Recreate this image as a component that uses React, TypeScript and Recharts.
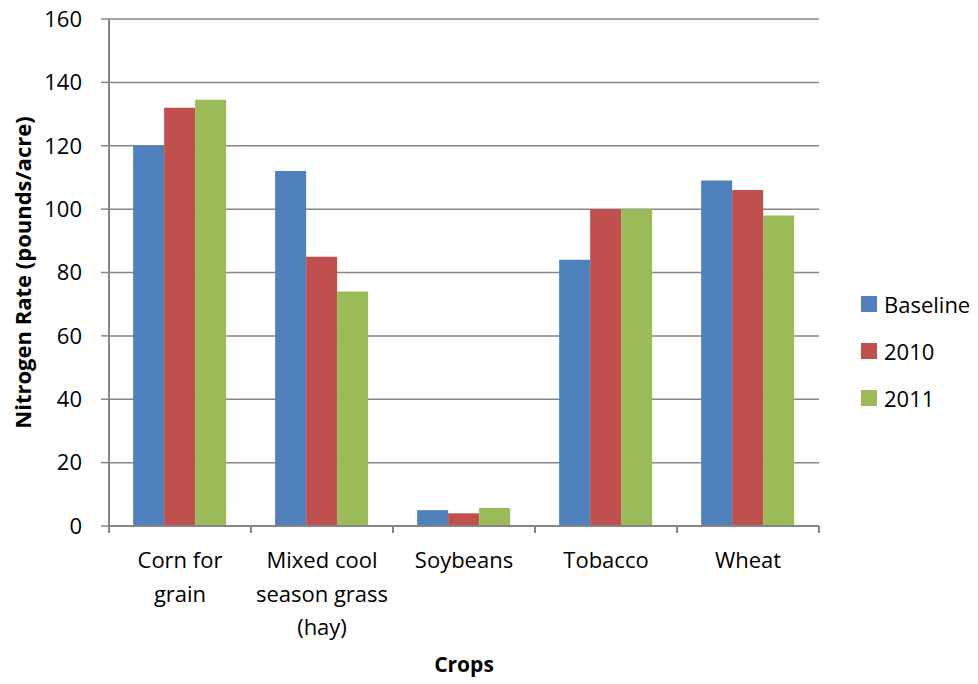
import React from "react";
import {
  BarChart,
  Bar,
  XAxis,
  YAxis,
  CartesianGrid,
  Legend,
} from "recharts";

// Crop categories ("\n" marks where the tick label wraps).
const categories = [
  "Corn for\ngrain",
  "Mixed cool\nseason grass\n(hay)",
  "Soybeans",
  "Tobacco",
  "Wheat",
];

// Nitrogen rate, pounds/acre
const baseline = [120, 112, 5, 84, 109];
const rate2010 = [132, 85, 4, 100, 106];
const rate2011 = [134.5, 74, 5.7, 100, 98];

const seriesNames = ["Baseline", "2010", "2011"];
const seriesColors = ["#4F81BD", "#C0504D", "#9BBB59"];

const yTicks = [0, 20, 40, 60, 80, 100, 120, 140, 160];

const data = categories.map((name, i) => ({
  name,
  Baseline: baseline[i],
  "2010": rate2010[i],
  "2011": rate2011[i],
}));

const FONT = "'Open Sans', sans-serif";
const AXIS = "#868686";

function CropTick(props: any) {
  const { x, y, payload, index, visibleTicksCount } = props;
  const half = payload.offset ?? 71;
  const axisY = y - 6;
  const lines = String(payload.value).split("\n");
  return (
    <g>
      <line x1={x - half} y1={axisY} x2={x - half} y2={axisY + 7} stroke={AXIS} strokeWidth={2} />
      {index === visibleTicksCount - 1 && (
        <line x1={x + half} y1={axisY} x2={x + half} y2={axisY + 7} stroke={AXIS} strokeWidth={2} />
      )}
      <text x={x} y={y} textAnchor="middle" fontFamily={FONT} fontSize={22} fill="#000">
        {lines.map((l, i) => (
          <tspan key={i} x={x} dy={i === 0 ? 36 : 33.5}>
            {l}
          </tspan>
        ))}
      </text>
    </g>
  );
}

function LegendBox() {
  return (
    <div style={{ fontFamily: FONT, fontSize: 22, color: "#000" }}>
      {seriesNames.map((n, i) => (
        <div key={n} style={{ display: "flex", alignItems: "center", height: 47 }}>
          <span
            style={{
              display: "inline-block",
              width: 16,
              height: 16,
              background: seriesColors[i],
              marginRight: 7,
            }}
          />
          <span>{n}</span>
        </div>
      ))}
    </div>
  );
}

export default function App() {
  return (
    <div style={{ position: "absolute", left: 0, top: 0, width: 978, height: 684, background: "#fff" }}>
      <BarChart
        width={978}
        height={684}
        data={data}
        margin={{ top: 19, right: 159, left: 49, bottom: 0 }}
        barCategoryGap="17%"
        barGap={0}
      >
        <CartesianGrid vertical={false} stroke={AXIS} strokeWidth={1.5} />
        <XAxis
          dataKey="name"
          height={158}
          interval={0}
          tickLine={false}
          tickSize={6}
          tickMargin={0}
          axisLine={{ stroke: AXIS, strokeWidth: 2 }}
          tick={<CropTick />}
          label={{
            content: ({ viewBox }: any) => (
              <text
                x={viewBox.x + viewBox.width / 2}
                y={viewBox.y + viewBox.height - 12}
                textAnchor="middle"
                fontFamily={FONT}
                fontSize={21}
                fontWeight="bold"
                fill="#000"
              >
                Crops
              </text>
            ),
          }}
        />
        <YAxis
          width={60}
          domain={[0, 160]}
          ticks={yTicks}
          interval={0}
          tickSize={8}
          tickMargin={19}
          axisLine={{ stroke: AXIS, strokeWidth: 2 }}
          tickLine={{ stroke: AXIS, strokeWidth: 1.5 }}
          tick={{ fontFamily: FONT, fontSize: 22, fill: "#000" }}
          label={{
            content: ({ viewBox }: any) => {
              const cx = 22;
              const cy = viewBox.y + viewBox.height / 2;
              return (
                <text
                  x={cx}
                  y={cy}
                  transform={`rotate(-90 ${cx} ${cy})`}
                  textAnchor="middle"
                  dominantBaseline="central"
                  fontFamily={FONT}
                  fontSize={22}
                  fontWeight="bold"
                  fill="#000"
                >
                  Nitrogen Rate (pounds/acre)
                </text>
              );
            },
          }}
        />
        <Legend
          layout="horizontal"
          align="center"
          verticalAlign="middle"
          content={() => <LegendBox />}
          wrapperStyle={{ position: "absolute", left: 861, top: 280, width: 117, height: "auto" }}
        />
        {seriesNames.map((n, i) => (
          <Bar key={n} dataKey={n} fill={seriesColors[i]} isAnimationActive={false} />
        ))}
      </BarChart>
    </div>
  );
}
